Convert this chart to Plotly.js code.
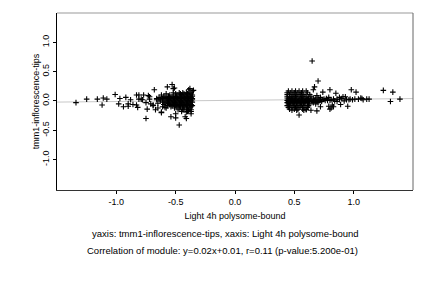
<!DOCTYPE html>
<html>
<head>
<meta charset="utf-8">
<script src="https://cdn.plot.ly/plotly-3.0.1.min.js"></script>
<style>html,body{margin:0;padding:0;background:#fff}#chart{width:432px;height:288px}</style>
</head>
<body>
<div id="chart"></div>
<script>
// ---- data ----
const xTickVals = [-1.0, -0.5, 0.0, 0.5, 1.0];
const xTickText = ["-1.0", "-0.5", "0.0", "0.5", "1.0"];
const yTickVals = [-1.0, -0.5, 0.0, 0.5, 1.0];
const yTickText = ["-1.0", "-0.5", "0.0", "0.5", "1.0"];
const xRange = [-1.5, 1.5];
const yRange = [-1.52, 1.5];
const fitSlope = 0.02;
const fitIntercept = 0.01;
const xTitle = "Light 4h polysome-bound";
const yTitle = "tmm1-inflorescence-tips";
const caption1 = "yaxis: tmm1-inflorescence-tips, xaxis: Light 4h polysome-bound";
const caption2 = "Correlation of module: y=0.02x+0.01, r=0.11 (p-value:5.200e-01)";

// left group: sparse points
const leftSparse = [
 [-1.34,-0.03],[-1.25,0.03],[-1.16,0.03],[-1.11,0.05],[-1.08,0.03],[-1.12,-0.07],
 [-1.01,0.11],[-0.97,0.04],[-0.98,-0.05],[-0.94,-0.10],[-0.92,0.06],[-0.90,-0.05],
 [-0.90,-0.09],[-0.88,0.02],[-0.86,-0.06],[-0.83,0.10],[-0.83,-0.07],[-0.82,-0.11],
 [-0.81,0.10],[-0.81,0.03],[-0.77,0.10],[-0.78,0.02],[-0.79,0.03],[-0.74,-0.14],
 [-0.75,-0.30],[-0.72,0.07],[-0.73,0.09],[-0.71,-0.05],[-0.72,0.03],[-0.75,-0.03],
 [-0.68,0.19],[-0.69,-0.08],[-0.69,-0.07],[-0.67,-0.15],[-0.66,0.04],[-0.63,0.03],
 [-0.62,-0.20],[-0.62,-0.19],[-0.59,-0.11],[-0.58,-0.12],[-0.61,-0.10],[-0.65,-0.12],
 [-0.57,0.24],[-0.53,0.28],[-0.51,0.22],[-0.52,0.21],[-0.54,-0.27],[-0.50,-0.29],
 [-0.50,-0.22],[-0.47,-0.41],[-0.44,-0.15],[-0.42,-0.27],[-0.41,-0.30],[-0.41,-0.19],
 [-0.39,-0.17],[-0.37,-0.22],[-0.38,0.21],[-0.39,0.19],[-0.36,0.17],[-0.35,0.18]
];
// left group: dense core
const leftCore = [
 [-0.52,0.14],[-0.47,0.14],[-0.44,0.14],[-0.41,0.14],[-0.38,0.14],
 [-0.58,0.12],[-0.50,0.12],[-0.46,0.12],[-0.43,0.12],[-0.40,0.12],[-0.37,0.12],
 [-0.62,0.10],[-0.55,0.10],[-0.49,0.10],[-0.45,0.10],[-0.42,0.10],[-0.39,0.10],[-0.36,0.10],
 [-0.60,0.08],[-0.56,0.08],[-0.53,0.08],[-0.50,0.08],[-0.47,0.08],[-0.44,0.08],[-0.41,0.08],[-0.38,0.08],[-0.36,0.08],
 [-0.64,0.06],[-0.59,0.06],[-0.55,0.06],[-0.52,0.06],[-0.49,0.06],[-0.46,0.06],[-0.43,0.06],[-0.40,0.06],[-0.37,0.06],
 [-0.61,0.04],[-0.57,0.04],[-0.54,0.04],[-0.51,0.04],[-0.48,0.04],[-0.45,0.04],[-0.42,0.04],[-0.39,0.04],[-0.36,0.04],
 [-0.66,0.02],[-0.60,0.02],[-0.56,0.02],[-0.53,0.02],[-0.50,0.02],[-0.47,0.02],[-0.44,0.02],[-0.41,0.02],[-0.38,0.02],[-0.36,0.02],
 [-0.63,0.00],[-0.58,0.00],[-0.55,0.00],[-0.52,0.00],[-0.49,0.00],[-0.46,0.00],[-0.43,0.00],[-0.40,0.00],[-0.37,0.00],
 [-0.61,-0.02],[-0.57,-0.02],[-0.54,-0.02],[-0.51,-0.02],[-0.48,-0.02],[-0.45,-0.02],[-0.42,-0.02],[-0.39,-0.02],[-0.36,-0.02],
 [-0.65,-0.04],[-0.59,-0.04],[-0.56,-0.04],[-0.53,-0.04],[-0.50,-0.04],[-0.47,-0.04],[-0.44,-0.04],[-0.41,-0.04],[-0.38,-0.04],
 [-0.60,-0.06],[-0.55,-0.06],[-0.52,-0.06],[-0.49,-0.06],[-0.46,-0.06],[-0.43,-0.06],[-0.40,-0.06],[-0.37,-0.06],
 [-0.57,-0.08],[-0.53,-0.08],[-0.50,-0.08],[-0.47,-0.08],[-0.44,-0.08],[-0.41,-0.08],[-0.38,-0.08],[-0.36,-0.08],
 [-0.54,-0.10],[-0.49,-0.10],[-0.46,-0.10],[-0.43,-0.10],[-0.40,-0.10],[-0.37,-0.10],
 [-0.51,-0.12],[-0.47,-0.12],[-0.44,-0.12],[-0.41,-0.12],[-0.38,-0.12],
 [-0.48,-0.15],[-0.43,-0.15],[-0.39,-0.15],[-0.37,-0.15],
 [-0.45,-0.18],[-0.40,-0.18],[-0.37,-0.18]
];
// right group: dense core
const rightCore = [
 [0.45,0.17],[0.48,0.17],[0.51,0.17],[0.54,0.17],[0.57,0.17],[0.60,0.17],
 [0.44,0.14],[0.47,0.14],[0.50,0.14],[0.53,0.14],[0.56,0.14],[0.61,0.14],
 [0.44,0.11],[0.46,0.11],[0.49,0.11],[0.52,0.11],[0.55,0.11],[0.58,0.11],[0.63,0.11],
 [0.44,0.08],[0.46,0.08],[0.48,0.08],[0.51,0.08],[0.54,0.08],[0.57,0.08],[0.60,0.08],[0.64,0.08],
 [0.44,0.05],[0.46,0.05],[0.48,0.05],[0.50,0.05],[0.53,0.05],[0.56,0.05],[0.59,0.05],[0.62,0.05],[0.66,0.05],[0.70,0.05],
 [0.45,0.03],[0.47,0.03],[0.49,0.03],[0.52,0.03],[0.55,0.03],[0.58,0.03],[0.61,0.03],[0.64,0.03],[0.68,0.03],[0.72,0.03],[0.75,0.03],
 [0.44,0.01],[0.46,0.01],[0.48,0.01],[0.51,0.01],[0.54,0.01],[0.57,0.01],[0.60,0.01],[0.63,0.01],[0.67,0.01],[0.71,0.01],[0.76,0.01],[0.78,0.01],
 [0.45,-0.01],[0.47,-0.01],[0.50,-0.01],[0.53,-0.01],[0.56,-0.01],[0.59,-0.01],[0.62,-0.01],[0.65,-0.01],[0.69,-0.01],[0.73,-0.01],
 [0.44,-0.03],[0.46,-0.03],[0.49,-0.03],[0.52,-0.03],[0.55,-0.03],[0.58,-0.03],[0.61,-0.03],[0.66,-0.03],[0.70,-0.03],
 [0.45,-0.05],[0.47,-0.05],[0.50,-0.05],[0.53,-0.05],[0.56,-0.05],[0.59,-0.05],[0.63,-0.05],[0.68,-0.05],
 [0.44,-0.08],[0.46,-0.08],[0.49,-0.08],[0.52,-0.08],[0.55,-0.08],[0.58,-0.08],[0.62,-0.08],
 [0.45,-0.11],[0.48,-0.11],[0.51,-0.11],[0.54,-0.11],[0.57,-0.11],[0.61,-0.11],
 [0.46,-0.14],[0.50,-0.14],[0.53,-0.14],[0.57,-0.14],[0.60,-0.14],
 [0.48,-0.16],[0.52,-0.16],[0.58,-0.16]
];
// right group: sparse points and tail
const rightSparse = [
 [0.65,0.68],[0.70,0.34],[0.67,0.24],[0.66,0.19],[0.74,0.15],[0.80,0.19],[0.85,0.13],
 [0.98,0.19],[1.02,0.15],[1.25,0.18],[1.33,0.15],[1.31,-0.01],[1.39,0.03],
 [0.95,-0.09],[0.54,-0.24],[0.60,-0.15],[0.64,-0.16],[0.69,-0.17],[0.72,-0.10],
 [0.81,-0.12],[0.82,-0.07],[0.79,-0.09],[0.80,-0.14],[0.83,-0.10],[0.89,-0.06],
 [0.91,0.07],[0.88,0.06],[0.86,0.03],[0.93,0.07],[0.97,0.03],[1.01,0.03],[1.06,0.05],
 [1.07,0.04],[1.11,0.03],[1.13,0.03],[1.04,0.03],[0.99,0.02],[0.96,0.02],[0.79,0.06],
 [0.74,0.02],[0.77,0.04],[0.80,0.01],[0.83,0.03],[0.86,-0.01],[0.88,0.02],[0.90,0.04],
 [0.92,0.00],[0.94,0.02],[1.08,0.02],[0.72,0.06],[0.69,0.09],[0.81,0.02],[0.84,0.00]
];

// ---- build traces ----
const allPts = leftSparse.concat(leftCore, rightCore, rightSparse);
const ptsX = allPts.map(p => p[0]);
const ptsY = allPts.map(p => p[1]);
const fitX = xRange.slice();
const fitY = fitX.map(x => fitSlope * x + fitIntercept);

const font = {family: "Liberation Sans, Arial, Helvetica, sans-serif", size: 9, color: "#000"};
const capFont = {family: "Liberation Sans, Arial, Helvetica, sans-serif", size: 9.5, color: "#000"};

const traces = [
 {x: fitX, y: fitY, mode: "lines", type: "scatter", line: {color: "#c8c8c8", width: 1}, hoverinfo: "skip"},
 {x: ptsX, y: ptsY, mode: "markers", type: "scatter",
  marker: {symbol: "cross-thin", size: 4, color: "#000", line: {color: "#000", width: 1.1}}}
];

const layout = {
 width: 432, height: 288,
 margin: {l: 57, r: 19, t: 13, b: 98},
 paper_bgcolor: "#fff", plot_bgcolor: "#fff",
 showlegend: false,
 font: font,
 xaxis: {range: xRange, tickvals: xTickVals, ticktext: xTickText, ticks: "outside", ticklen: 3,
  tickcolor: "#000", showgrid: false, zeroline: false, showline: true, linecolor: "#333", linewidth: 1,
  tickfont: font, title: {text: xTitle, font: font, standoff: 6}},
 yaxis: {range: yRange, tickvals: yTickVals, ticktext: yTickText, ticks: "outside", ticklen: 3,
  tickcolor: "#000", showgrid: false, zeroline: false, showline: true, linecolor: "#000", linewidth: 1,
  tickangle: -90, tickfont: font, title: {text: yTitle, font: font, standoff: 0}},
 shapes: [
  {type: "line", xref: "paper", yref: "paper", x0: 0, x1: 1, y0: 1, y1: 1, line: {color: "#999", width: 1}},
  {type: "line", xref: "paper", yref: "paper", x0: 1, x1: 1, y0: 0, y1: 1, line: {color: "#666", width: 1}}
 ],
 annotations: [
  {text: caption1, xref: "paper", yref: "paper", x: 0.473, y: -0.243, xanchor: "center", yanchor: "middle", showarrow: false, font: capFont},
  {text: caption2, xref: "paper", yref: "paper", x: 0.4635, y: -0.339, xanchor: "center", yanchor: "middle", showarrow: false, font: capFont}
 ]
};

Plotly.newPlot("chart", traces, layout, {staticPlot: true, displayModeBar: false});
</script>
</body>
</html>
